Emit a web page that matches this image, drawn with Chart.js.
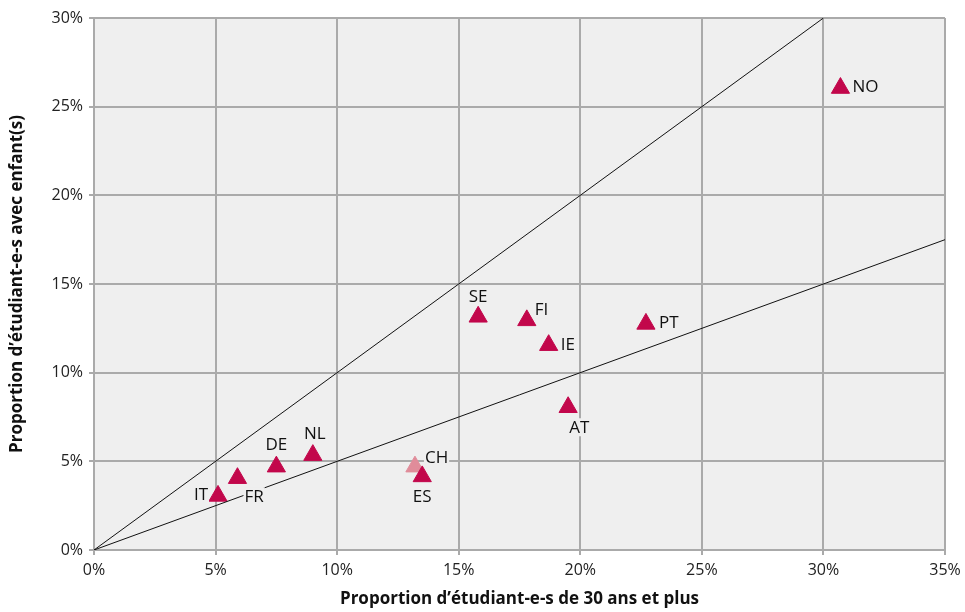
<!DOCTYPE html>
<html>
<head>
<meta charset="utf-8">
<script src="https://cdn.jsdelivr.net/npm/chart.js@4.4.1/dist/chart.umd.min.js"></script>
<style>
  html, body { margin: 0; padding: 0; background: #fff; }
  #wrap { width: 965px; height: 612px; }
</style>
</head>
<body>
<div id="wrap"><canvas id="myChart"></canvas></div>
<script>
// country codes and values (percent)
const countries = ['NO', 'SE', 'FI', 'IE', 'PT', 'AT', 'CH', 'ES', 'NL', 'DE', 'FR', 'IT']
const shareOver30 = [30.7, 15.8, 17.8, 18.7, 22.7, 19.5, 13.2, 13.5, 9.0, 7.5, 5.9, 5.1]
const shareWithKids = [26.05, 13.15, 12.95, 11.55, 12.75, 8.05, 4.7, 4.15, 5.35, 4.7, 4.05, 3.05]
const lineEqual = [{x: 0, y: 0}, {x: 30, y: 30}]
const lineHalf = [{x: 0, y: 0}, {x: 35, y: 17.5}]
const xTicks = [0, 5, 10, 15, 20, 25, 30, 35]
const yTicks = [0, 5, 10, 15, 20, 25, 30]

const FONT = '"Open Sans", "Noto Sans", sans-serif'
const MAIN = '#c2074b'
const LIGHT = '#e08c9a'
const PLOT_BG = '#efefef'

// where each label sits relative to its marker: [dx, dy, align]
const labelOffsets = {
  NO: [12, -2, 'left'], SE: [0, -21, 'center'], FI: [8, -11, 'left'], IE: [12, -1, 'left'],
  PT: [13, -2, 'left'], AT: [1, 20, 'left'], CH: [10, -9, 'left'], ES: [0, 20, 'center'],
  NL: [2, -22, 'center'], DE: [0, -22, 'center'], FR: [7, 18, 'left'], IT: [-10, -2, 'right']
}

const points = countries.map((c, i) => ({x: shareOver30[i], y: shareWithKids[i]}))

const plotBackground = {
  id: 'plotBackground',
  beforeDraw(chart) {
    const {ctx, chartArea: a} = chart
    ctx.save()
    ctx.fillStyle = PLOT_BG
    ctx.fillRect(a.left, a.top, a.right - a.left, a.bottom - a.top)
    ctx.restore()
  }
}

const countryLabels = {
  id: 'countryLabels',
  afterDatasetsDraw(chart) {
    const {ctx} = chart
    const meta = chart.getDatasetMeta(2)
    ctx.save()
    ctx.font = '17px ' + FONT
    ctx.textBaseline = 'middle'
    meta.data.forEach((pt, i) => {
      const name = countries[i]
      const [dx, dy, align] = labelOffsets[name]
      const x = pt.x + dx
      const y = pt.y + dy
      const w = ctx.measureText(name).width
      let left = x
      if (align === 'center') left = x - w / 2
      if (align === 'right') left = x - w
      ctx.fillStyle = PLOT_BG
      ctx.fillRect(left - 1, y - 9, w + 2, 18)
      ctx.fillStyle = '#111'
      ctx.textAlign = align
      ctx.fillText(name, x, y + 1)
    })
    ctx.restore()
  }
}

const gridColor = '#aaaaaa'

new Chart(document.getElementById('myChart'), {
  type: 'scatter',
  data: {
    datasets: [
      {
        type: 'line', data: lineEqual, borderColor: '#111', borderWidth: 1,
        pointRadius: 0, fill: false
      },
      {
        type: 'line', data: lineHalf, borderColor: '#111', borderWidth: 1,
        pointRadius: 0, fill: false
      },
      {
        data: points,
        pointStyle: 'triangle',
        pointRadius: 10.5,
        pointHoverRadius: 10.5,
        backgroundColor: countries.map(c => c === 'CH' ? LIGHT : MAIN),
        borderColor: countries.map(c => c === 'CH' ? LIGHT : MAIN),
        borderWidth: 1
      }
    ]
  },
  options: {
    responsive: true,
    maintainAspectRatio: false,
    animation: false,
    layout: {padding: {top: 18, right: 20, left: 0, bottom: 0}},
    plugins: {legend: {display: false}, tooltip: {enabled: false}},
    scales: {
      x: {
        type: 'linear', min: 0, max: 35,
        afterBuildTicks: s => { s.ticks = xTicks.map(v => ({value: v})) },
        afterFit: s => { s.height = 62; s.paddingRight = 0 },
        ticks: {
          callback: v => v + '%', color: '#222', padding: 6,
          font: {family: FONT, size: 16}
        },
        grid: {color: gridColor, lineWidth: 2, tickLength: 5, tickColor: gridColor},
        border: {color: gridColor, width: 2},
        title: {
          display: true, text: 'Proportion d\u2019étudiant-e-s de 30 ans et plus',
          color: '#111', font: {family: FONT, size: 17, weight: 'bold'}, padding: {top: 4, bottom: 3}
        }
      },
      y: {
        type: 'linear', min: 0, max: 30,
        afterBuildTicks: s => { s.ticks = yTicks.map(v => ({value: v})) },
        afterFit: s => { s.width = 94 },
        ticks: {
          callback: v => v + '%', color: '#222', padding: 6,
          font: {family: FONT, size: 16}
        },
        grid: {color: gridColor, lineWidth: 2, tickLength: 5, tickColor: gridColor},
        border: {color: gridColor, width: 2},
        title: {
          display: true, text: 'Proportion d\u2019étudiant-e-s avec enfant(s)',
          color: '#111', font: {family: FONT, size: 17, weight: 'bold'}, padding: {top: 7, bottom: 0}
        }
      }
    }
  },
  plugins: [plotBackground, countryLabels]
})
</script>
</body>
</html>
